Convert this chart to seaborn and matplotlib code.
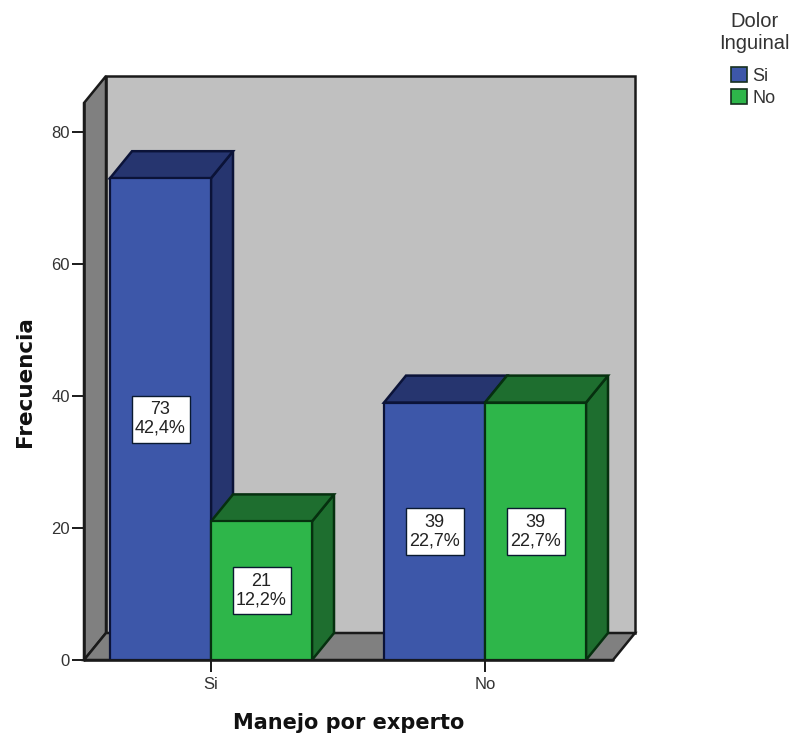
import matplotlib
matplotlib.use("Agg")
import matplotlib.pyplot as plt
from matplotlib.patches import Polygon, Rectangle
import pandas as pd
import seaborn as sns

# Cross-tabulated counts
manejo = ["Si", "Si", "No", "No"]
dolor = ["Si", "No", "Si", "No"]
frecuencia = [73, 21, 39, 39]
porcentaje = ["42,4%", "12,2%", "22,7%", "22,7%"]
y_ticks = [0, 20, 40, 60, 80]

FACE = {"Si": "#3D57A9", "No": "#2EB64A"}
SHADE = {"Si": "#26356F", "No": "#1E6E2F"}
EDGE = {"Si": "#0B1338", "No": "#06300F"}
WALL = "#C0C0C0"
SIDE = "#808080"
LINE = "#1A1A1A"

W, H = 794, 736
LEFT, RIGHT, BOTTOM, TOP = 84, 613, 660, 103
PX_PER_CAT = 274.0
PX_PER_UNIT = 6.6
DX = 22 / PX_PER_CAT   # oblique depth in data units
DY = 27 / PX_PER_UNIT
BOX_W = 58 / PX_PER_CAT  # value label box
BOX_H = 47 / PX_PER_UNIT

sns.set_theme(style="white")
plt.rcParams["font.family"] = ["Liberation Sans", "DejaVu Sans"]

df = pd.DataFrame({"Manejo": manejo, "Dolor": dolor, "Frecuencia": frecuencia})

fig = plt.figure(figsize=(W / 100, H / 100), dpi=100, facecolor="white")
ax = fig.add_axes([LEFT / W, 1 - BOTTOM / H, (RIGHT - LEFT) / W, (BOTTOM - TOP) / H])

sns.barplot(
    data=df, x="Manejo", y="Frecuencia", hue="Dolor",
    order=["Si", "No"], hue_order=["Si", "No"],
    palette=FACE, width=202 / PX_PER_CAT, gap=0, saturation=1,
    linewidth=1.6, edgecolor="#0A1A20", zorder=10, ax=ax,
)
ax.set_xlim((LEFT - 211) / PX_PER_CAT, (RIGHT - 211) / PX_PER_CAT)
ax.set_ylim(0, (BOTTOM - TOP) / PX_PER_UNIT)
xl, xr = ax.get_xlim()
yt = ax.get_ylim()[1]


def face(points, color, edge=LINE, lw=1.8, z=1):
    ax.add_patch(Polygon(points, closed=True, facecolor=color, edgecolor=edge,
                         linewidth=lw, clip_on=False, zorder=z, joinstyle="miter"))


# Chart box: back wall, left wall and floor
face([(xl + DX, DY), (xr + DX, DY), (xr + DX, yt + DY), (xl + DX, yt + DY)], WALL, z=1)
face([(xl, 0), (xl + DX, DY), (xl + DX, yt + DY), (xl, yt)], SIDE, z=2)
face([(xl, 0), (xr, 0), (xr + DX, DY), (xl + DX, DY)], SIDE, z=3)

# Extruded top and right faces of each bar
for container, key in zip(ax.containers, ["Si", "No"]):
    for bar in container:
        x0 = bar.get_x()
        x1 = x0 + bar.get_width()
        h = bar.get_height()
        bar.set_edgecolor(EDGE[key])
        # Bars further right sit in front of their left neighbours
        z = 4 + x0
        face([(x1, 0), (x1 + DX, DY), (x1 + DX, h + DY), (x1, h)], SHADE[key],
             edge=EDGE[key], z=z)
        face([(x0, h), (x1, h), (x1 + DX, h + DY), (x0 + DX, h + DY)], SHADE[key],
             edge=EDGE[key], z=z)

# Count and percentage boxed at the middle of each bar
labels = {(m, d): (v, p) for m, d, v, p in zip(manejo, dolor, frecuencia, porcentaje)}
for container, key in zip(ax.containers, ["Si", "No"]):
    for bar, cat in zip(container, ["Si", "No"]):
        v, p = labels[(cat, key)]
        cx = bar.get_x() + bar.get_width() / 2
        ax.add_patch(Rectangle((cx - BOX_W / 2, v / 2 - BOX_H / 2), BOX_W, BOX_H,
                               facecolor="white", edgecolor="#0A1A30",
                               linewidth=1.0, zorder=19))
        ax.text(cx, v / 2, f"{v}\n{p}", ha="center", va="center", fontsize=13,
                color="#222222", linespacing=1.12, zorder=20)

# Axes
for s in ax.spines.values():
    s.set_visible(False)
ax.set_yticks(y_ticks)
ax.tick_params(axis="y", left=True, length=8.6, width=1.4, color=LINE, pad=1.5,
               labelsize=12, labelcolor="#333333")
ax.tick_params(axis="x", bottom=True, length=8.6, width=1.4, color=LINE, pad=3.5,
               labelsize=12, labelcolor="#333333")
ax.plot([xl, xl], [0, yt], color=LINE, lw=1.8, zorder=15, clip_on=False)
ax.plot([xl, xr], [0, 0], color=LINE, lw=1.8, zorder=15, clip_on=False)
ax.grid(False)

ax.set_xlabel("Manejo por experto", fontsize=15, fontweight="bold",
              family="DejaVu Sans", color="#111111", labelpad=15)
ax.set_ylabel("Frecuencia", fontsize=15.5, fontweight="bold",
              family="DejaVu Sans", color="#111111", labelpad=12)

# Legend, with its two-line heading set above the entries
sns.move_legend(
    ax, loc="upper center", bbox_to_anchor=(753 / W, 1 - 67 / H),
    bbox_transform=fig.transFigure, frameon=False, title=None,
    fontsize=13, handlelength=0.9, handleheight=0.9,
    handletextpad=0.3, labelspacing=0.25, borderpad=0, borderaxespad=0,
)
legend = ax.get_legend()
for handle in legend.get_patches():
    handle.set_edgecolor("#17301F")
    handle.set_linewidth(1.2)
for t in legend.get_texts():
    t.set_color("#333333")
fig.text(754 / W, 1 - 32.5 / H, "Dolor\nInguinal", ha="center", va="center",
         ma="center", fontsize=14.5, linespacing=1.22, color="#333333")

fig.savefig("out.png", dpi=100)
